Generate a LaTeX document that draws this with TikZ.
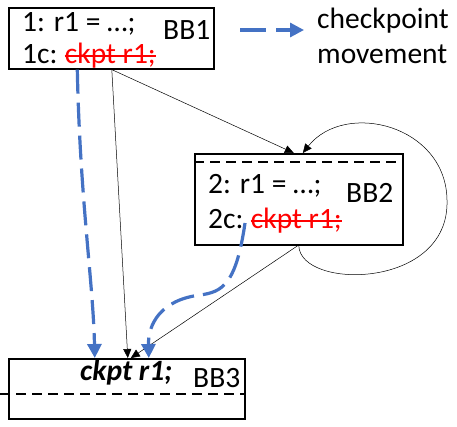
\documentclass[tikz,border=0pt]{standalone}
\usepackage{fontspec}
\setmainfont{Carlito}
\usetikzlibrary{arrows.meta,calc}
\definecolor{cpblue}{HTML}{4472C4}
\definecolor{cpred}{HTML}{FF0000}
\begin{document}
\begin{tikzpicture}[x=1pt,y=-1pt,
  bbox/.style={draw,line width=1.6pt,minimum width=#1,inner sep=0,anchor=north west},
  txt/.style={inner sep=0,anchor=base west,font=\fontsize{29.5}{32}\selectfont},
  redtxt/.style={txt,text=cpred},
  flow/.style={-{Triangle[length=9pt,width=8pt]},line width=0.5pt},
  move/.style={cpblue,line width=3.2pt,dash pattern=on 24pt off 9pt,-{Triangle[length=14pt,width=14pt]}},
  sep/.style={line width=1.6pt,dash pattern=on 10pt off 6pt},
  strike/.style={cpred,line width=1.4pt}]
\useasboundingbox (0,0) rectangle (457,426);
% boxes
\node[bbox=205pt,minimum height=61pt] (bb1) at (8,7) {};
\node[bbox=208pt,minimum height=91pt] (bb2) at (194,153) {};
\node[bbox=236pt,minimum height=60pt] (bb3) at (8,358) {};
% separators
\draw[sep] (bb2.north west) ++(0,9) coordinate (s2a) -- (s2a -| bb2.east);
\coordinate (s3a) at (0,394);
\draw[sep] (s3a) -- (s3a -| bb3.east);
% BB1 texts
\node[txt] (l1) at (22,31) {1: r1 = …;};
\node[txt] (l1c) at (22,63) {1c:};
\node[redtxt] (ck1) at ([xshift=7pt]l1c.base east) {ckpt r1;};
\draw[strike] ([yshift=7pt]ck1.base west) -- ([yshift=7pt]ck1.base east);
\node[txt] (n1) at (163,39) {BB1};
% BB2 texts
\node[txt] (l2) at (208,193) {2: r1 = …;};
\node[txt] (l2c) at (208,228) {2c:};
\node[redtxt] (ck2) at ([xshift=7pt]l2c.base east) {ckpt r1;};
\draw[strike] ([yshift=7pt]ck2.base west) -- ([yshift=7pt]ck2.base east);
\node[txt] (n2) at (346,202) {BB2};
% BB3 texts
\node[txt,font=\fontsize{29.5}{32}\selectfont\bfseries\itshape] (l3) at (80,380) {ckpt r1;};
\node[txt] (n3) at (193,387) {BB3};
% legend
\coordinate (lg1) at (240,30);
\coordinate (lg2) at (304,30);
\draw[move,dash pattern=on 26pt off 10pt] (lg1) -- (lg2);
\node[txt] (lgt1) at (317,28) {checkpoint};
\node[txt] (lgt2) at (317,63) {movement};
% flow edges
\draw[flow] ([xshift=0.5pt]bb1.south) -- ([xshift=1pt]bb3.north);
\draw[flow] ([xshift=0.5pt]bb1.south) -- ([xshift=-5pt]bb2.north);
\draw[flow] ([xshift=-1pt]bb2.south) -- ([xshift=4pt]bb3.north);
\draw[flow] ([xshift=0pt]bb2.south) .. controls (300,290) and (450,290) .. (447,200)
  .. controls (446,125) and (345,100) .. ([xshift=4pt]bb2.north);
% checkpoint movement
\draw[move] ([xshift=-34pt]bb1.south) .. controls (80,200) and (93,280) .. ([xshift=-32pt]bb3.north);
\draw[move] (245,223) .. controls (236,285) and (222,292) .. (200,295)
  .. controls (160,300) and (148,325) .. ([xshift=22pt]bb3.north);
\end{tikzpicture}
\end{document}
